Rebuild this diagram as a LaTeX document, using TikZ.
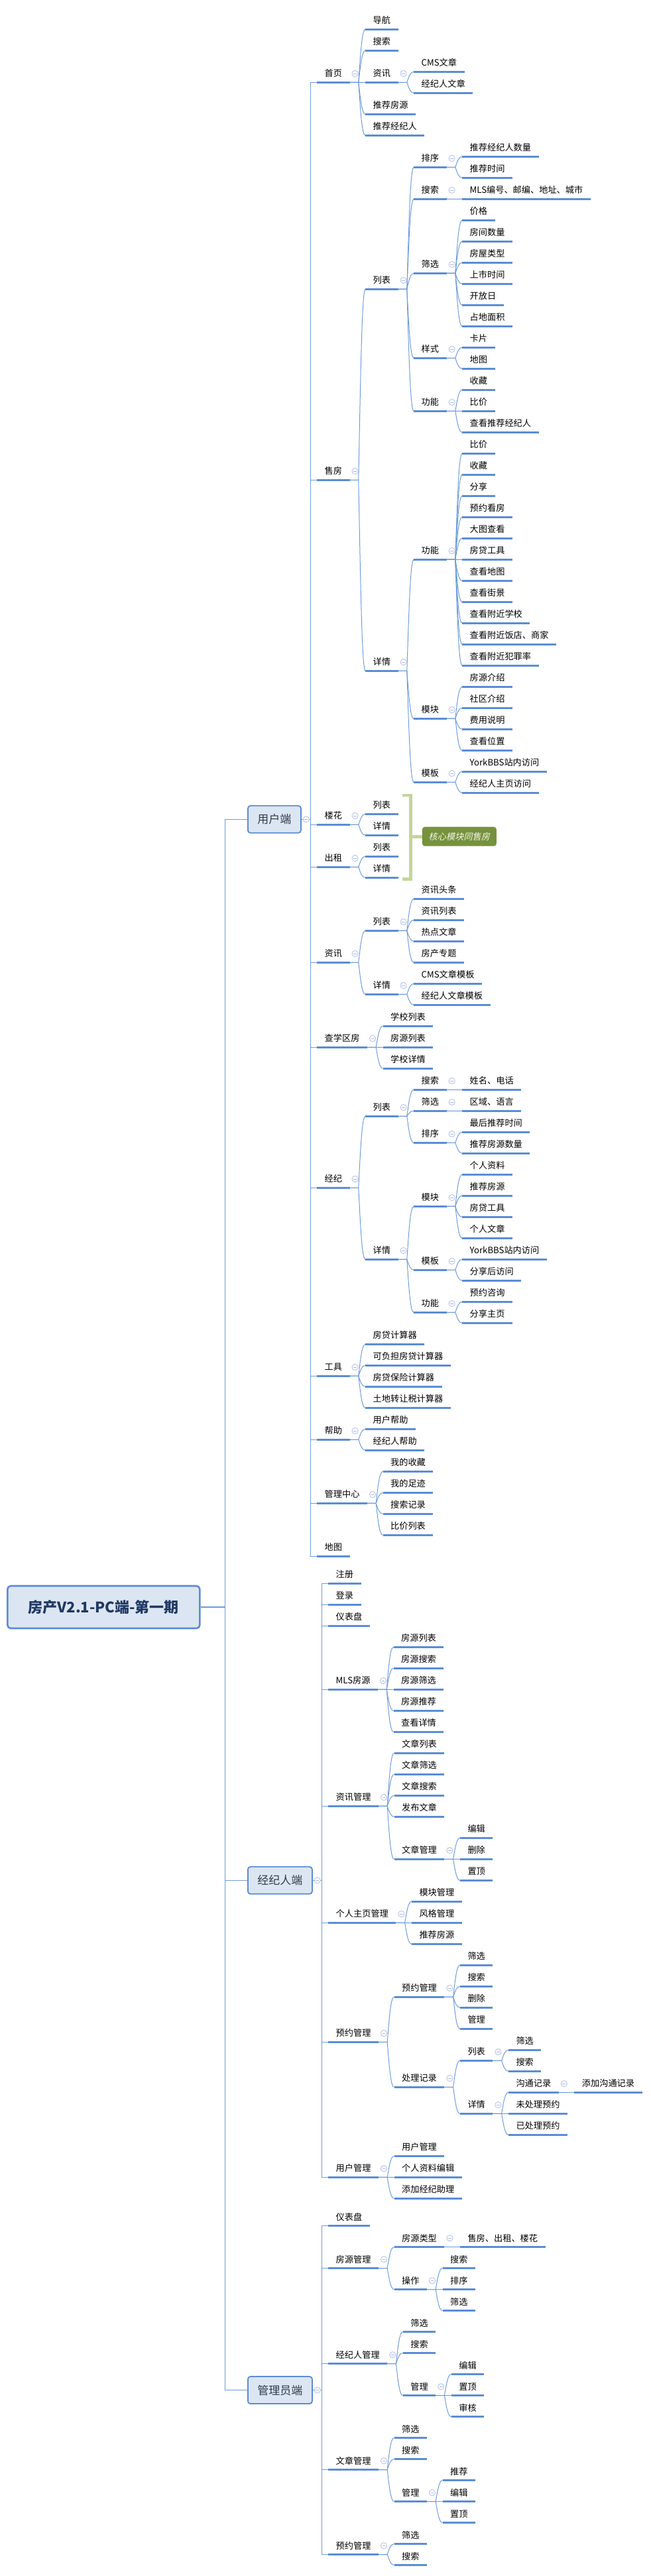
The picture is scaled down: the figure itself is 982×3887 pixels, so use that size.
\documentclass[tikz,border=0pt]{standalone}
\usepackage{fontspec}
\setmainfont{Noto Sans CJK SC}
\newfontfamily\slantcjk[FakeSlant=0.2]{Noto Sans CJK SC}
\usetikzlibrary{calc}
\definecolor{ulc}{HTML}{5B8DD6}
\definecolor{cnc}{HTML}{6E9CDB}
\definecolor{foldc}{HTML}{A9B6E2}
\definecolor{boxfill}{HTML}{DCE6F2}
\definecolor{boxdraw}{HTML}{5B8BD4}
\definecolor{l0text}{HTML}{2E3B4E}
\definecolor{roottext}{HTML}{1F3864}
\definecolor{brk}{HTML}{C3D69B}
\definecolor{callfill}{HTML}{76923C}
\definecolor{calltext}{HTML}{F2F5E8}
\tikzset{
  tn/.style={anchor=south west, inner xsep=11.3pt, inner ysep=6.3pt, text height=10.5pt, text depth=2pt, font=\fontsize{13.2pt}{15pt}\selectfont, text=black},
  ul/.style={draw=ulc, line width=2.4pt},
  cn/.style={draw=cnc, line width=1pt},
  rcn/.style={draw=cnc, line width=1.3pt},
  fd/.style={draw=foldc, fill=white, line width=0.7pt},
  fdm/.style={draw=foldc, line width=0.8pt},
  l0/.style={anchor=west, draw=boxdraw, fill=boxfill, line width=1.8pt, rounded corners=4pt, minimum height=41pt, inner xsep=14.5pt, inner ysep=0pt, font=\fontsize{17pt}{20pt}\selectfont, text=l0text},
  rootbox/.style={anchor=west, draw=boxdraw, fill=boxfill, line width=2.6pt, rounded corners=5pt, minimum height=64pt, minimum width=290pt, font=\bfseries\fontsize{22pt}{26pt}\selectfont, text=roottext},
  callout/.style={anchor=west, fill=callfill, rounded corners=4pt, minimum width=112pt, minimum height=29pt, inner sep=0pt, text=calltext, font=\slantcjk\fontsize{13.2pt}{15pt}\selectfont}
}
\newcommand\conn[2]{%
  \draw[cn] let \p1=(#1.south east), \p2=(#2.south west) in
    (\p1) -- (\x1+13.2pt,\y1) .. controls (\x1+16.5pt,0.4*\y1+0.6*\y2) and (\x1+18.6pt,\y2) .. (\p2);}
\newcommand\kid[4]{%
  \path (#1.south east) ++(23.6pt,0pt) coordinate (tmpk);
  \node[tn] (#2) at (tmpk |- 0,#3) {#4};
  \draw[ul] (#2.south west) -- (#2.south east);
  \conn{#1}{#2}}
\newcommand\lone[4]{%
  \path (#1.east) ++(23.4pt,0pt) coordinate (tmpk);
  \node[tn] (#2) at (tmpk |- 0,#3) {#4};
  \draw[ul] (#2.south west) -- (#2.south east);
  \draw[cn] (#1.east) -- ++(13.8pt,0pt) |- (#2.south west);}
\newcommand\fold[1]{%
  \path (#1.south east) ++(8pt,13.3pt) coordinate (fc);
  \draw[fd] (fc) circle (4.6pt);
  \draw[fdm] ([xshift=-2.4pt]fc) -- ([xshift=2.4pt]fc);}
\newcommand\foldb[1]{%
  \path (#1.east) ++(7pt,0pt) coordinate (fc);
  \draw[fd] (fc) circle (4.6pt);
  \draw[fdm] ([xshift=-2.4pt]fc) -- ([xshift=2.4pt]fc);}
\begin{document}
\begin{tikzpicture}[x=1pt,y=-1pt]
\fill[white] (0,0) rectangle (982,3887);
\useasboundingbox (0,0) rectangle (982,3887);

% ================= 用户端 =================
\node[l0] (ub) at (373,1236.3) {用户端};
\lone{ub}{a1}{124.3}{首页}
\lone{ub}{a2}{724.3}{售房}
\lone{ub}{a3}{1244.3}{楼花}
\lone{ub}{a4}{1308.3}{出租}
\lone{ub}{a5}{1452.3}{资讯}
\lone{ub}{a6}{1580.3}{查学区房}
\lone{ub}{a7}{1792.3}{经纪}
\lone{ub}{a8}{2076.3}{工具}
\lone{ub}{a9}{2172.3}{帮助}
\lone{ub}{aa}{2268.3}{管理中心}
\lone{ub}{ab}{2348.3}{地图}
\foldb{ub}

% 首页
\kid{a1}{a1a}{44.3}{导航}
\kid{a1}{a1b}{76.3}{搜索}
\kid{a1}{a1c}{124.3}{资讯}
\kid{a1c}{a1c1}{108.3}{CMS文章}
\kid{a1c}{a1c2}{140.3}{经纪人文章}
\kid{a1}{a1d}{172.3}{推荐房源}
\kid{a1}{a1e}{204.3}{推荐经纪人}
\fold{a1}\fold{a1c}

% 售房
\kid{a2}{a2a}{436.3}{列表}
\kid{a2a}{a2a1}{252.3}{排序}
\kid{a2a1}{a2a1a}{236.3}{推荐经纪人数量}
\kid{a2a1}{a2a1b}{268.3}{推荐时间}
\kid{a2a}{a2a2}{300.3}{搜索}
\kid{a2a2}{a2a2a}{300.3}{MLS编号、邮编、地址、城市}
\kid{a2a}{a2a3}{412.3}{筛选}
\kid{a2a3}{a2a3a}{332.3}{价格}
\kid{a2a3}{a2a3b}{364.3}{房间数量}
\kid{a2a3}{a2a3c}{396.3}{房屋类型}
\kid{a2a3}{a2a3d}{428.3}{上市时间}
\kid{a2a3}{a2a3e}{460.3}{开放日}
\kid{a2a3}{a2a3f}{492.3}{占地面积}
\kid{a2a}{a2a4}{540.3}{样式}
\kid{a2a4}{a2a4a}{524.3}{卡片}
\kid{a2a4}{a2a4b}{556.3}{地图}
\kid{a2a}{a2a5}{620.3}{功能}
\kid{a2a5}{a2a5a}{588.3}{收藏}
\kid{a2a5}{a2a5b}{620.3}{比价}
\kid{a2a5}{a2a5c}{652.3}{查看推荐经纪人}
\kid{a2}{a2b}{1012.3}{详情}
\kid{a2b}{a2b1}{844.3}{功能}
\kid{a2b1}{a2b1a}{684.3}{比价}
\kid{a2b1}{a2b1b}{716.3}{收藏}
\kid{a2b1}{a2b1c}{748.3}{分享}
\kid{a2b1}{a2b1d}{780.3}{预约看房}
\kid{a2b1}{a2b1e}{812.3}{大图查看}
\kid{a2b1}{a2b1f}{844.3}{房贷工具}
\kid{a2b1}{a2b1g}{876.3}{查看地图}
\kid{a2b1}{a2b1h}{908.3}{查看街景}
\kid{a2b1}{a2b1i}{940.3}{查看附近学校}
\kid{a2b1}{a2b1j}{972.3}{查看附近饭店、商家}
\kid{a2b1}{a2b1k}{1004.3}{查看附近犯罪率}
\kid{a2b}{a2b2}{1084.3}{模块}
\kid{a2b2}{a2b2a}{1036.3}{房源介绍}
\kid{a2b2}{a2b2b}{1068.3}{社区介绍}
\kid{a2b2}{a2b2c}{1100.3}{费用说明}
\kid{a2b2}{a2b2d}{1132.3}{查看位置}
\kid{a2b}{a2b3}{1180.3}{模板}
\kid{a2b3}{a2b3a}{1164.3}{YorkBBS站内访问}
\kid{a2b3}{a2b3b}{1196.3}{经纪人主页访问}
\fold{a2}\fold{a2a}\fold{a2a1}\fold{a2a2}\fold{a2a3}\fold{a2a4}\fold{a2a5}
\fold{a2b}\fold{a2b1}\fold{a2b2}\fold{a2b3}

% 楼花 / 出租
\kid{a3}{a3a}{1228.3}{列表}
\kid{a3}{a3b}{1260.3}{详情}
\kid{a4}{a4a}{1292.3}{列表}
\kid{a4}{a4b}{1324.3}{详情}
\fold{a3}\fold{a4}

% 核心模块同售房
\draw[brk, line width=4.6pt, line join=miter] (606.5,1200) -- (619.5,1200) -- (619.5,1326.5) -- (606.5,1326.5);
\node[callout] (cm) at (636.7,1262.2) {核心模块同售房};
\draw[brk, line width=4.6pt] (619.5,1262.2) -- (cm.west);

% 资讯
\kid{a5}{a5a}{1404.3}{列表}
\kid{a5a}{a5a1}{1356.3}{资讯头条}
\kid{a5a}{a5a2}{1388.3}{资讯列表}
\kid{a5a}{a5a3}{1420.3}{热点文章}
\kid{a5a}{a5a4}{1452.3}{房产专题}
\kid{a5}{a5b}{1500.3}{详情}
\kid{a5b}{a5b1}{1484.3}{CMS文章模板}
\kid{a5b}{a5b2}{1516.3}{经纪人文章模板}
\fold{a5}\fold{a5a}\fold{a5b}

% 查学区房
\kid{a6}{a6a}{1548.3}{学校列表}
\kid{a6}{a6b}{1580.3}{房源列表}
\kid{a6}{a6c}{1612.3}{学校详情}
\fold{a6}

% 经纪
\kid{a7}{a7a}{1684.3}{列表}
\kid{a7a}{a7a1}{1644.3}{搜索}
\kid{a7a1}{a7a1a}{1644.3}{姓名、电话}
\kid{a7a}{a7a2}{1676.3}{筛选}
\kid{a7a2}{a7a2a}{1676.3}{区域、语言}
\kid{a7a}{a7a3}{1724.3}{排序}
\kid{a7a3}{a7a3a}{1708.3}{最后推荐时间}
\kid{a7a3}{a7a3b}{1740.3}{推荐房源数量}
\kid{a7}{a7b}{1900.3}{详情}
\kid{a7b}{a7b1}{1820.3}{模块}
\kid{a7b1}{a7b1a}{1772.3}{个人资料}
\kid{a7b1}{a7b1b}{1804.3}{推荐房源}
\kid{a7b1}{a7b1c}{1836.3}{房贷工具}
\kid{a7b1}{a7b1d}{1868.3}{个人文章}
\kid{a7b}{a7b2}{1916.3}{模板}
\kid{a7b2}{a7b2a}{1900.3}{YorkBBS站内访问}
\kid{a7b2}{a7b2b}{1932.3}{分享后访问}
\kid{a7b}{a7b3}{1980.3}{功能}
\kid{a7b3}{a7b3a}{1964.3}{预约咨询}
\kid{a7b3}{a7b3b}{1996.3}{分享主页}
\fold{a7}\fold{a7a}\fold{a7a1}\fold{a7a2}\fold{a7a3}\fold{a7b}\fold{a7b1}\fold{a7b2}\fold{a7b3}

% 工具 帮助 管理中心
\kid{a8}{a8a}{2028.3}{房贷计算器}
\kid{a8}{a8b}{2060.3}{可负担房贷计算器}
\kid{a8}{a8c}{2092.3}{房贷保险计算器}
\kid{a8}{a8d}{2124.3}{土地转让税计算器}
\kid{a9}{a9a}{2156.3}{用户帮助}
\kid{a9}{a9b}{2188.3}{经纪人帮助}
\kid{aa}{aaa}{2220.3}{我的收藏}
\kid{aa}{aab}{2252.3}{我的足迹}
\kid{aa}{aac}{2284.3}{搜索记录}
\kid{aa}{aad}{2316.3}{比价列表}
\fold{a8}\fold{a9}\fold{aa}

% ================= 经纪人端 =================
\node[l0] (kb) at (373,2837.3) {经纪人端};
\lone{kb}{b1}{2389.3}{注册}
\lone{kb}{b2}{2421.3}{登录}
\lone{kb}{b3}{2453.3}{仪表盘}
\lone{kb}{b4}{2549.3}{MLS房源}
\lone{kb}{b5}{2725.3}{资讯管理}
\lone{kb}{b6}{2901.3}{个人主页管理}
\lone{kb}{b7}{3081.3}{预约管理}
\lone{kb}{b8}{3285.3}{用户管理}
\foldb{kb}

\kid{b4}{b4a}{2485.3}{房源列表}
\kid{b4}{b4b}{2517.3}{房源搜索}
\kid{b4}{b4c}{2549.3}{房源筛选}
\kid{b4}{b4d}{2581.3}{房源推荐}
\kid{b4}{b4e}{2613.3}{查看详情}
\kid{b5}{b5a}{2645.3}{文章列表}
\kid{b5}{b5b}{2677.3}{文章筛选}
\kid{b5}{b5c}{2709.3}{文章搜索}
\kid{b5}{b5d}{2741.3}{发布文章}
\kid{b5}{b5e}{2805.3}{文章管理}
\kid{b5e}{b5e1}{2773.3}{编辑}
\kid{b5e}{b5e2}{2805.3}{删除}
\kid{b5e}{b5e3}{2837.3}{置顶}
\kid{b6}{b6a}{2869.3}{模块管理}
\kid{b6}{b6b}{2901.3}{风格管理}
\kid{b6}{b6c}{2933.3}{推荐房源}
\kid{b7}{b7a}{3013.3}{预约管理}
\kid{b7a}{b7a1}{2965.3}{筛选}
\kid{b7a}{b7a2}{2997.3}{搜索}
\kid{b7a}{b7a3}{3029.3}{删除}
\kid{b7a}{b7a4}{3061.3}{管理}
\kid{b7}{b7b}{3149.3}{处理记录}
\kid{b7b}{b7b1}{3109.3}{列表}
\kid{b7b1}{b7b1a}{3093.3}{筛选}
\kid{b7b1}{b7b1b}{3125.3}{搜索}
\kid{b7b}{b7b2}{3189.3}{详情}
\kid{b7b2}{b7b2a}{3157.3}{沟通记录}
\kid{b7b2a}{b7b2a1}{3157.3}{添加沟通记录}
\kid{b7b2}{b7b2b}{3189.3}{未处理预约}
\kid{b7b2}{b7b2c}{3221.3}{已处理预约}
\kid{b8}{b8a}{3253.3}{用户管理}
\kid{b8}{b8b}{3285.3}{个人资料编辑}
\kid{b8}{b8c}{3317.3}{添加经纪助理}
\fold{b4}\fold{b5}\fold{b5e}\fold{b6}\fold{b7}\fold{b7a}\fold{b7b}\fold{b7b1}\fold{b7b2}\fold{b7b2a}\fold{b8}

% ================= 管理员端 =================
\node[l0] (gb) at (373,3606.5) {管理员端};
\lone{gb}{c1}{3358.5}{仪表盘}
\lone{gb}{c2}{3422.5}{房源管理}
\lone{gb}{c3}{3566.5}{经纪人管理}
\lone{gb}{c4}{3726.5}{文章管理}
\lone{gb}{c5}{3854.5}{预约管理}
\foldb{gb}

\kid{c2}{c2a}{3390.5}{房源类型}
\kid{c2a}{c2a1}{3390.5}{售房、出租、楼花}
\kid{c2}{c2b}{3454.5}{操作}
\kid{c2b}{c2b1}{3422.5}{搜索}
\kid{c2b}{c2b2}{3454.5}{排序}
\kid{c2b}{c2b3}{3486.5}{筛选}
\kid{c3}{c3a}{3518.5}{筛选}
\kid{c3}{c3b}{3550.5}{搜索}
\kid{c3}{c3c}{3614.5}{管理}
\kid{c3c}{c3c1}{3582.5}{编辑}
\kid{c3c}{c3c2}{3614.5}{置顶}
\kid{c3c}{c3c3}{3646.5}{审核}
\kid{c4}{c4a}{3678.5}{筛选}
\kid{c4}{c4b}{3710.5}{搜索}
\kid{c4}{c4c}{3774.5}{管理}
\kid{c4c}{c4c1}{3742.5}{推荐}
\kid{c4c}{c4c2}{3774.5}{编辑}
\kid{c4c}{c4c3}{3806.5}{置顶}
\kid{c5}{c5a}{3838.5}{筛选}
\kid{c5}{c5b}{3870.5}{搜索}
\fold{c2}\fold{c2a}\fold{c2b}\fold{c3}\fold{c3c}\fold{c4}\fold{c4c}\fold{c5}

% ================= 根 =================
\node[rootbox] (root) at (10,2425) {房产V2.1-PC端-第一期};
\draw[rcn] (root.east) -- ++(37pt,0pt) |- (ub.west);
\draw[rcn] (root.east) -- ++(37pt,0pt) |- (kb.west);
\draw[rcn] (root.east) -- ++(37pt,0pt) |- (gb.west);
\end{tikzpicture}
\end{document}
